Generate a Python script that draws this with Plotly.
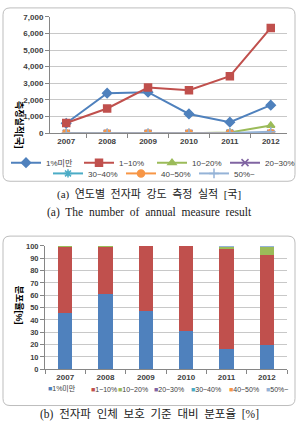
import plotly.graph_objects as go

W, H = 298, 435
years = ["2007", "2008", "2009", "2010", "2011", "2012"]
series_names = ["1%미만", "1~10%", "10~20%", "20~30%", "30~40%", "40~50%", "50%~"]
colors = ["#4F81BD", "#C0504D", "#9BBB59", "#8064A2", "#4BACC6", "#F79646", "#95B3D7"]
symbols = ["diamond", "square", "triangle-up", "x-thin", "asterisk", "circle", "cross-thin"]

# (a) number of measurements per year
counts = {
    "1%미만": [600, 2410, 2470, 1160, 665, 1690],
    "1~10%": [620, 1490, 2750, 2590, 3430, 6330],
    "10~20%": [0, 0, 0, 0, 50, 470],
    "20~30%": [0, 0, 0, 0, 0, 0],
    "30~40%": [0, 0, 0, 0, 40, 0],
    "40~50%": [0, 0, 0, 0, 0, 10],
    "50%~": [0, 0, 0, 0, 20, 90],
}

# (b) distribution ratio [%]
ratios = {
    "1%미만": [46.0, 61.0, 47.4, 30.7, 16.4, 19.6],
    "1~10%": [53.4, 38.2, 52.6, 69.3, 81.8, 73.3],
    "10~20%": [0.6, 0.8, 0.0, 0.0, 1.3, 6.3],
    "20~30%": [0, 0, 0, 0, 0, 0],
    "30~40%": [0, 0, 0, 0, 0.3, 0],
    "40~50%": [0, 0, 0, 0, 0, 0.1],
    "50%~": [0, 0, 0, 0, 0.2, 0.7],
}

a_yticks = [0, 1000, 2000, 3000, 4000, 5000, 6000, 7000]
b_yticks = [0, 10, 20, 30, 40, 50, 60, 70, 80, 90, 100]

FONT = "Liberation Sans, Noto Sans CJK KR, sans-serif"
SERIF = "Liberation Serif, Noto Sans CJK KR, serif"
TXT = "#404040"
GRID = "#C8C8C8"


def px(x):
    return x / W


def py(y):
    return 1 - y / H


fig = go.Figure()

for i, name in enumerate(series_names):
    fig.add_trace(go.Scatter(
        x=years, y=counts[name], name=name, mode="lines+markers",
        line=dict(color=colors[i], width=2),
        marker=dict(symbol=symbols[i], size=7, color=colors[i],
                    line=dict(color=colors[i], width=1.5)),
        xaxis="x", yaxis="y",
        legend="legend" if i < 4 else "legend2",
    ))

for i, name in enumerate(series_names):
    fig.add_trace(go.Bar(
        x=years, y=ratios[name], name=name, marker=dict(color=colors[i], line=dict(width=0)),
        width=0.36, xaxis="x2", yaxis="y2", showlegend=False,
    ))

tickfont = dict(family=FONT, size=8, color=TXT, weight="bold")
legfont = dict(family=FONT, size=8, color=TXT)

fig.update_layout(
    width=W, height=H, margin=dict(l=0, r=0, t=0, b=0),
    paper_bgcolor="white", plot_bgcolor="white",
    barmode="stack",
    xaxis=dict(domain=[px(50), px(287)], anchor="y", type="category",
               tickfont=tickfont, showline=True, linecolor="#868686",
               ticks="outside", tickson="boundaries", ticklen=4, tickcolor="#868686",
               showgrid=False, zeroline=False),
    yaxis=dict(domain=[py(132), py(13)], anchor="x", range=[0, 7000],
               tickvals=a_yticks, tickformat=",", tickfont=tickfont,
               showline=True, linecolor="#868686", ticks="outside", ticklen=4,
               tickcolor="#868686", gridcolor=GRID, zeroline=False),
    xaxis2=dict(domain=[px(45), px(287)], anchor="y2", type="category",
                tickfont=tickfont, showline=True, linecolor="#868686",
                ticks="outside", tickson="boundaries", ticklen=4, tickcolor="#868686",
                showgrid=False, zeroline=False),
    yaxis2=dict(domain=[py(373), py(247)], anchor="x2", range=[0, 100],
                tickvals=b_yticks, ticksuffix="%",
                tickfont=dict(family=FONT, size=7.5, color=TXT, weight="bold"),
                showline=True, linecolor="#868686", ticks="outside", ticklen=4,
                tickcolor="#868686", gridcolor=GRID, zeroline=False),
    legend=dict(orientation="h", x=px(48), xanchor="left", y=py(162), yanchor="middle",
                font=legfont, itemwidth=30, traceorder="normal",
                entrywidth=28, entrywidthmode="pixels", bgcolor="rgba(0,0,0,0)"),
    legend2=dict(orientation="h", x=px(48), xanchor="left", y=py(173), yanchor="middle",
                 font=legfont, itemwidth=30, traceorder="normal",
                 entrywidth=28, entrywidthmode="pixels", bgcolor="rgba(0,0,0,0)"),
)


def rounded_box(x0, y0, x1, y1, r=7):
    X0, X1 = px(x0), px(x1)
    Y0, Y1 = py(y0), py(y1)
    rx, ry = r / W, r / H
    path = (f"M {X0+rx},{Y0} L {X1-rx},{Y0} Q {X1},{Y0} {X1},{Y0-ry} "
            f"L {X1},{Y1+ry} Q {X1},{Y1} {X1-rx},{Y1} L {X0+rx},{Y1} "
            f"Q {X0},{Y1} {X0},{Y1+ry} L {X0},{Y0-ry} Q {X0},{Y0} {X0+rx},{Y0} Z")
    fig.add_shape(type="path", path=path, xref="paper", yref="paper",
                  line=dict(color="#BDBDBD", width=1), layer="below")


rounded_box(3, 4, 295, 181)
rounded_box(3, 237, 295, 410)

# y-axis titles (vertical)
fig.add_annotation(text="측정실적[국]", x=px(12), y=py(97), xref="paper", yref="paper",
                   textangle=90, showarrow=False,
                   font=dict(family=FONT, size=9, color="#000000", weight="bold"))
fig.add_annotation(text="분포율[%]", x=px(12), y=py(329), xref="paper", yref="paper",
                   textangle=90, showarrow=False,
                   font=dict(family=FONT, size=9, color="#000000", weight="bold"))

# bar chart legend
leg_x = [46, 89, 116, 152, 189, 227, 264]
for i, name in enumerate(series_names):
    fig.add_annotation(
        text=f"<span style='color:{colors[i]}'>■</span>{name}",
        x=px(leg_x[i]), y=py(399), xref="paper", yref="paper", xanchor="left",
        showarrow=False, font=dict(family=FONT, size=7, color=TXT))

# captions
fig.add_annotation(text="(a)  연도별  전자파  강도  측정  실적  [국]", x=0.5, y=py(195),
                   xref="paper", yref="paper", showarrow=False,
                   font=dict(family=SERIF, size=11, color="#222222"))
fig.add_annotation(text="(a)  The  number  of  annual  measure  result", x=0.5, y=py(213),
                   xref="paper", yref="paper", showarrow=False,
                   font=dict(family=SERIF, size=11.5, color="#222222"))
fig.add_annotation(text="(b)  전자파  인체  보호  기준  대비  분포율  [%]", x=0.5, y=py(428),
                   xref="paper", yref="paper", showarrow=False,
                   font=dict(family=SERIF, size=11.5, color="#222222"))

fig.write_html("out.html")
